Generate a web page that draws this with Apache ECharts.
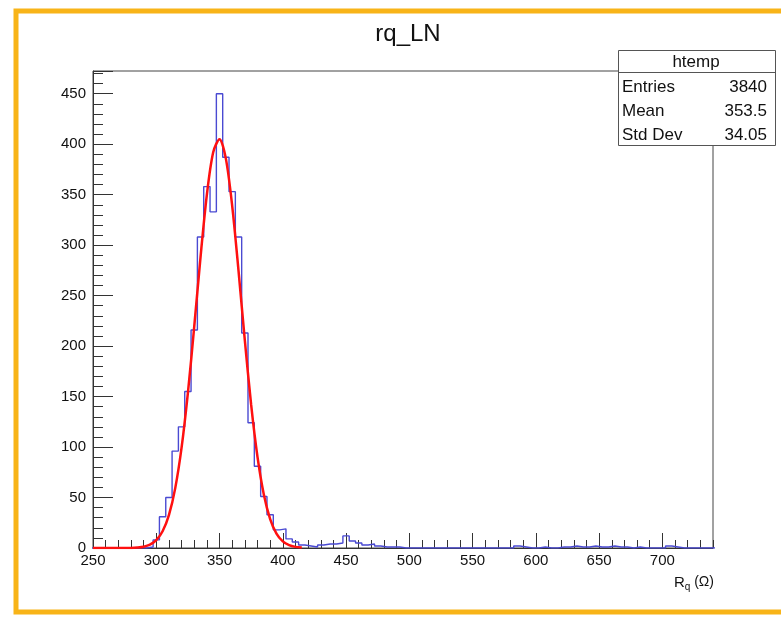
<!DOCTYPE html>
<html>
<head>
<meta charset="utf-8">
<title>rq_LN</title>
<script src="https://cdn.jsdelivr.net/npm/echarts@6/dist/echarts.min.js"></script>
<style>
  html, body { margin: 0; padding: 0; background: #fff; }
  #chart { width: 781px; height: 617px; }
</style>
</head>
<body>
<div id="chart"></div>
<script>
// htemp histogram, 5 wide bins, first bin starts at 247.5
var binStart = 247.5;
var binWidth = 5;
var counts = [
  0, 0, 0, 0, 0, 0, 0, 0, 0, 1,
  8, 31, 50, 96, 120, 155, 216, 308, 358, 333,
  450, 387, 353, 308, 213, 124, 81, 51, 33, 18,
  19, 9, 6, 3, 2, 1, 3, 4, 4, 5,
  12, 7, 5, 3, 4, 2, 1, 1, 1, 0,
  0, 0, 0, 0, 0, 0, 0, 0, 0, 0,
  0, 0, 0, 0, 0, 0, 0, 2, 1, 0,
  0, 1, 0, 0, 1, 1, 2, 1, 1, 2,
  1, 1, 2, 1, 1, 0, 1, 0, 0, 0,
  0, 2, 1, 0, 0, 0, 0, 0, 0
];

// gaussian fit (red line), every 5 units
var fitX = [250, 255, 260, 265, 270, 275, 280, 285, 290, 295, 300, 305, 310, 315, 320,
  325, 330, 335, 340, 345, 350, 355, 360, 365, 370, 375, 380, 385, 390, 395,
  400, 405, 410, 415];
var fitY = [0, 0, 0, 0, 0, 0, 0.1, 0.5, 1.3, 3.3, 7.8, 16.6, 32.6, 59.3, 99.4,
  153.7, 219.2, 288.4, 350.1, 392, 405, 385.7, 339, 274.8, 205.6, 141.7, 90.2, 53, 28.7, 14.3,
  6.6, 2.8, 1.1, 0.4];

var xMin = 250, xMax = 740;
var yMin = 0, yMax = 472.5;

var chartTitle = 'rq_LN';
var statTitle = 'htemp';
var statNames = ['Entries', 'Mean', 'Std Dev'];
var statValues = ['3840', '353.5', '34.05'];

var font = "'Liberation Sans', Arial, Helvetica, sans-serif";

// outline points for the step line
var histPts = counts.map(function (c, i) {
  return [binStart + i * binWidth, c];
});
histPts.push([binStart + counts.length * binWidth, counts[counts.length - 1]]);

var fitPts = fitX.map(function (x, i) {
  return [x, fitY[i]];
});

// stat box texts
var statGraphics = [
  {
    type: 'rect',
    shape: { x: 618.5, y: 50.5, width: 157, height: 95 },
    style: { fill: '#fff', stroke: '#555', lineWidth: 1 },
    z: 10
  },
  {
    type: 'line',
    shape: { x1: 618.5, y1: 72.5, x2: 775.5, y2: 72.5 },
    style: { stroke: '#555', lineWidth: 1 },
    z: 11
  },
  {
    type: 'text',
    x: 696, y: 62,
    style: { text: statTitle, font: '17px ' + font, fill: '#111', align: 'center', verticalAlign: 'middle' },
    z: 11
  }
];
var rowY = [87, 111, 135];
statNames.forEach(function (n, i) {
  statGraphics.push({
    type: 'text',
    x: 622, y: rowY[i],
    style: { text: n, font: '17px ' + font, fill: '#111', align: 'left', verticalAlign: 'middle' },
    z: 11
  });
  statGraphics.push({
    type: 'text',
    x: 767, y: rowY[i],
    style: { text: statValues[i], font: '17px ' + font, fill: '#111', align: 'right', verticalAlign: 'middle' },
    z: 11
  });
});

var chart = echarts.init(document.getElementById('chart'));
chart.setOption({
  animation: false,
  backgroundColor: '#fff',
  title: {
    text: chartTitle,
    left: 403,
    top: 17,
    textAlign: 'center',
    textStyle: { fontFamily: font, fontSize: 24, fontWeight: 'normal', color: '#111' }
  },
  grid: {
    left: 93, right: 68, top: 71, bottom: 69,
    show: true,
    borderColor: '#444',
    borderWidth: 1
  },
  xAxis: [
    {
      type: 'value',
      min: xMin, max: xMax, interval: 50,
      position: 'bottom',
      axisLine: { show: true, onZero: false, lineStyle: { color: '#333', width: 1 } },
      axisTick: { show: true, inside: true, length: 15, lineStyle: { color: '#333' } },
      axisLabel: { fontFamily: font, fontSize: 15, color: '#111', margin: 5, showMaxLabel: false },
      splitLine: { show: false },
      name: '{r|R}{s|q} (Ω)',
      nameLocation: 'end',
      nameGap: 1,
      nameTextStyle: {
        fontFamily: font, fontSize: 14, color: '#111',
        align: 'right', verticalAlign: 'top',
        padding: [25, 0, 0, 0],
        rich: {
          r: { fontFamily: font, fontSize: 15, color: '#111' },
          s: { fontFamily: font, fontSize: 10, color: '#111', padding: [9, 0, 0, 0] }
        }
      }
    },
    {
      type: 'value',
      min: xMin, max: xMax, interval: 10,
      position: 'bottom',
      axisLine: { show: false, onZero: false },
      axisTick: { show: true, inside: true, length: 8, lineStyle: { color: '#333' } },
      axisLabel: { show: false },
      splitLine: { show: false }
    }
  ],
  yAxis: [
    {
      type: 'value',
      min: yMin, max: yMax, interval: 50,
      position: 'left',
      axisLine: { show: true, onZero: false, lineStyle: { color: '#333', width: 1 } },
      axisTick: { show: true, inside: true, length: 20, lineStyle: { color: '#333' } },
      axisLabel: {
        fontFamily: font, fontSize: 15, color: '#111', margin: 7,
        formatter: function (v) { return v % 50 === 0 ? String(v) : ''; }
      },
      splitLine: { show: false }
    },
    {
      type: 'value',
      min: yMin, max: yMax, interval: 10,
      position: 'left',
      axisLine: { show: false, onZero: false },
      axisTick: { show: true, inside: true, length: 10, lineStyle: { color: '#333' } },
      axisLabel: { show: false },
      splitLine: { show: false }
    }
  ],
  series: [
    {
      name: 'htemp',
      type: 'line',
      step: 'end',
      xAxisIndex: 0,
      yAxisIndex: 0,
      data: histPts,
      symbol: 'none',
      clip: true,
      lineStyle: { color: '#4a4ad2', width: 1.4 },
      z: 3
    },
    {
      name: 'fit',
      type: 'line',
      smooth: 0.3,
      xAxisIndex: 0,
      yAxisIndex: 0,
      data: fitPts,
      symbol: 'none',
      clip: true,
      lineStyle: { color: '#ff1010', width: 2.5 },
      z: 4
    }
  ],
  graphic: [
    {
      type: 'rect',
      shape: { x: 16, y: 11, width: 800, height: 601 },
      style: { fill: 'none', stroke: '#f8b418', lineWidth: 5 },
      z: 1
    }
  ].concat(statGraphics)
});
</script>
</body>
</html>
